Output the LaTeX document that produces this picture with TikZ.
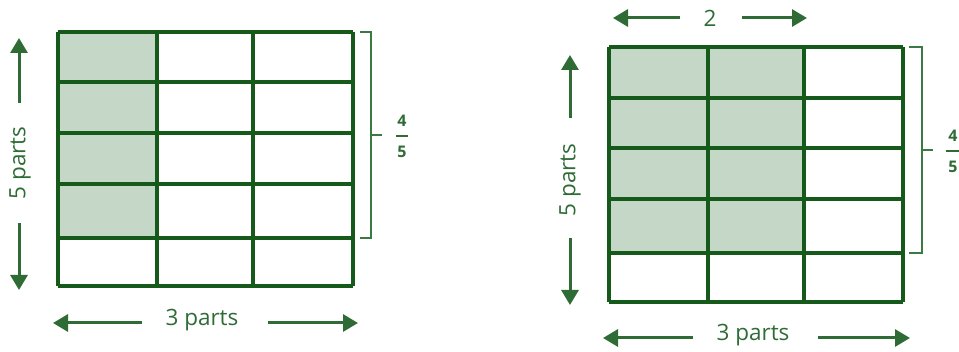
\documentclass[tikz,border=0pt]{standalone}
\usepackage{fontspec}
\setmainfont{Open Sans}
\usetikzlibrary{arrows.meta}
\definecolor{gridgreen}{HTML}{165A1B}
\definecolor{arrgreen}{HTML}{2E6B35}
\definecolor{shadegreen}{HTML}{C5D8C8}
\definecolor{brackgreen}{HTML}{3C7A43}
\begin{document}
\begin{tikzpicture}[x=1pt,y=-1pt,
  gridline/.style={draw=gridgreen,line width=3.3pt},
  arr/.style={draw=arrgreen,line width=3pt,-{Triangle[length=15pt,width=17pt]}},
  lbl/.style={text=arrgreen,font=\fontsize{22.5}{22.5}\selectfont,inner sep=0pt},
  frac/.style={text=arrgreen,font=\bfseries\fontsize{16}{16}\selectfont,inner sep=0pt},
  brack/.style={draw=brackgreen,line width=1.5pt}]
\useasboundingbox (0,0) rectangle (959,352);
% ---------- left grid ----------
\fill[shadegreen] (58,32) rectangle (157,238);
\foreach \yy in {32,82,133,184,238,286} \draw[gridline] (58,\yy) -- (353,\yy);
\foreach \xx in {58,157,253,353} \draw[gridline] (\xx,32) -- (\xx,286);
% bracket
\draw[brack] (360,32) -- (371,32) -- (371,238) -- (360,238);
\draw[brack] (371,135) -- (382,135);
\node[frac] (ln4) at (402,121) {4};
\node[frac] (ln5) at (402,152) {5};
\draw[draw=arrgreen,line width=1.5pt] (396,136) -- (408,136);
% vertical arrows
\node[lbl,rotate=90] (l5p) at (20,163) {5 parts};
\coordinate (lu1) at (19,103); \coordinate (lu2) at (19,38);
\coordinate (ld1) at (19,223); \coordinate (ld2) at (19,290);
\draw[arr] (lu1) -- (lu2);
\draw[arr] (ld1) -- (ld2);
% horizontal arrows
\node[lbl] (l3p) at (202,320) {3 parts};
\coordinate (lh1) at (142,323); \coordinate (lh2) at (53,323);
\coordinate (lh3) at (268,323); \coordinate (lh4) at (358,323);
\draw[arr] (lh1) -- (lh2);
\draw[arr] (lh3) -- (lh4);
% ---------- right grid ----------
\fill[shadegreen] (609,47) rectangle (804,253);
\foreach \yy in {47,98,148,199,253,302} \draw[gridline] (609,\yy) -- (903,\yy);
\foreach \xx in {609,708,804,903} \draw[gridline] (\xx,47) -- (\xx,302);
% bracket
\draw[brack] (909,47) -- (922,47) -- (922,253) -- (909,253);
\draw[brack] (922,150) -- (933,150);
\node[frac] (rn4) at (953,136) {4};
\node[frac] (rn5) at (953,167) {5};
\draw[draw=arrgreen,line width=1.5pt] (946,151) -- (959,151);
% vertical arrows
\node[lbl,rotate=90] (r5p) at (570,180) {5 parts};
\coordinate (ru1) at (570,118); \coordinate (ru2) at (570,55);
\coordinate (rd1) at (570,238); \coordinate (rd2) at (570,305);
\draw[arr] (ru1) -- (ru2);
\draw[arr] (rd1) -- (rd2);
% top arrows
\node[lbl] (r2) at (710,18) {2};
\coordinate (rt1) at (680,18); \coordinate (rt2) at (613,18);
\coordinate (rt3) at (742,18); \coordinate (rt4) at (807,18);
\draw[arr] (rt1) -- (rt2);
\draw[arr] (rt3) -- (rt4);
% bottom arrows
\node[lbl] (r3p) at (753,335) {3 parts};
\coordinate (rb1) at (693,338); \coordinate (rb2) at (603,338);
\coordinate (rb3) at (818,338); \coordinate (rb4) at (910,338);
\draw[arr] (rb1) -- (rb2);
\draw[arr] (rb3) -- (rb4);
\end{tikzpicture}
\end{document}
